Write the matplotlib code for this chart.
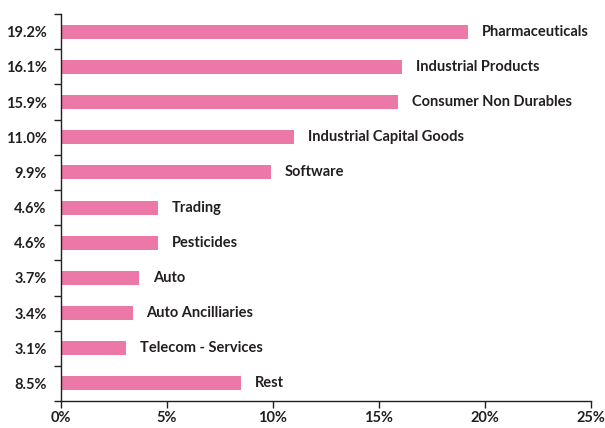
import matplotlib.pyplot as plt
import numpy as np

sectors = ['Pharmaceuticals', 'Industrial Products', 'Consumer Non Durables',
           'Industrial Capital Goods', 'Software', 'Trading', 'Pesticides',
           'Auto', 'Auto Ancilliaries', 'Telecom - Services', 'Rest']
weights = [19.2, 16.1, 15.9, 11.0, 9.9, 4.6, 4.6, 3.7, 3.4, 3.1, 8.5]

bar_color = '#EC78A8'
text_color = '#231F20'

plt.rcParams['font.family'] = ['Lato', 'DejaVu Sans']

fig = plt.figure(figsize=(6.05, 4.28), dpi=100)
ax = fig.add_axes([0.1, 0.063, 0.877, 0.904])

pos = np.arange(len(sectors))
ax.barh(pos, weights, height=0.4, color=bar_color)

# sector names sit just past the end of each bar
for p, w, name in zip(pos, weights, sectors):
    ax.text(w + 0.65, p, name, va='center', ha='left', fontsize=10.5,
            fontweight='bold', color=text_color)

ax.set_ylim(len(sectors) - 0.5, -0.5)
ax.set_xlim(0, 25)

ax.set_yticks(pos)
ax.set_yticklabels([f'{w:.1f}%' for w in weights], fontsize=10.5,
                   fontweight='bold', color=text_color)
ax.set_yticks(np.arange(len(sectors) + 1) - 0.5, minor=True)
ax.tick_params(axis='y', which='major', length=0, pad=10)
ax.tick_params(axis='y', which='minor', length=5, width=1, color=text_color)

ax.set_xticks([0, 5, 10, 15, 20, 25])
ax.set_xticklabels(['0%', '5%', '10%', '15%', '20%', '25%'], fontsize=10.5,
                   fontweight='bold', color=text_color)
ax.tick_params(axis='x', length=5, width=1, color=text_color, pad=2.5)

for side in ['top', 'right']:
    ax.spines[side].set_visible(False)
for side in ['left', 'bottom']:
    ax.spines[side].set_color(text_color)
    ax.spines[side].set_linewidth(1)

fig.savefig('out.png', dpi=100)
